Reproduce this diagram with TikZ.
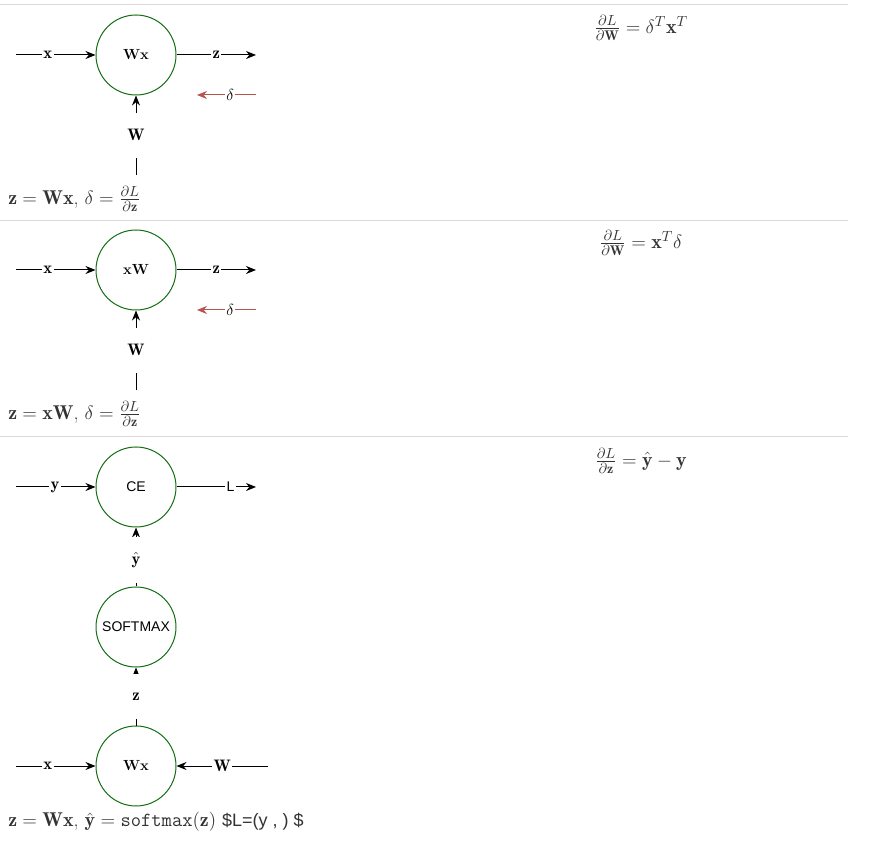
\documentclass[tikz,border=0pt]{standalone}
\usepackage{fontspec}
\setsansfont{Liberation Sans}
\usetikzlibrary{positioning, arrows.meta}
\definecolor{nodegreen}{RGB}{20,110,20}
\definecolor{gradred}{RGB}{184,84,80}
\definecolor{sepgray}{RGB}{218,218,218}
\definecolor{eqgray}{RGB}{51,51,51}

\begin{document}
\begin{tikzpicture}[x=0.75pt,y=-0.75pt]
  \tikzset{
    op/.style={
      draw=nodegreen,
      line width=0.75pt,
      circle,
      minimum size=60pt,
      inner sep=0pt,
      font=\fontsize{11}{13}\selectfont\bfseries
    },
    opsans/.style={
      op,
      font=\fontsize{10.5}{12}\selectfont\sffamily
    },
    flow/.style={
      draw,
      line width=0.75pt,
      -{Stealth[length=7.5pt,width=6pt]}
    },
    grad/.style={
      flow,
      draw=gradred,
      color=gradred
    },
    elabel/.style={
      fill=white,
      inner sep=1pt,
      text=black,
      font=\fontsize{12.5}{14}\selectfont
    },
    vlabel/.style={
      elabel,
      minimum height=34pt
    },
    eq/.style={
      anchor=west,
      inner sep=0pt,
      text=eqgray,
      font=\fontsize{15}{17}\selectfont
    },
    deriv/.style={
      inner sep=0pt,
      text=eqgray,
      font=\fontsize{15}{17}\selectfont
    },
    sep/.style={
      draw=sepgray,
      line width=0.75pt
    }
  }

  \useasboundingbox (0,0) rectangle (872,841);

  % Draw the separators between the three cases
  \foreach \y in {5,221,437}
    \draw[sep] (0,\y) -- (848,\y);

  % Case 1: z = Wx
  \node[op] at (136,55) (wx1) {Wx};
  \coordinate (x1in) at (16,55);
  \coordinate (z1out) at (256,55);
  \coordinate (d1in) at (256,95);
  \coordinate (d1out) at (197,95);
  \coordinate (w1in) at (136,175);
  \draw[flow] (x1in) -- node[elabel, pos=0.4] {$\mathbf{x}$} (wx1);
  \draw[flow] (wx1) -- node[elabel] {$\mathbf{z}$} (z1out);
  \draw[grad] (d1in) -- node[elabel, pos=0.44] {$\delta$} (d1out);
  \draw[flow] (w1in) -- node[vlabel] {$\mathbf{W}$} (wx1);
  \node[eq] at (8,199) (eq1) {$\mathbf{z}=\mathbf{Wx}$, $\delta=\frac{\partial L}{\partial\mathbf{z}}$};
  \node[deriv] at (641,28) (dw1) {$\frac{\partial L}{\partial\mathbf{W}}=\delta^T\mathbf{x}^T$};

  % Case 2: z = xW
  \node[op] at (136,270) (xw2) {xW};
  \coordinate (x2in) at (16,270);
  \coordinate (z2out) at (256,270);
  \coordinate (d2in) at (256,310);
  \coordinate (d2out) at (197,310);
  \coordinate (w2in) at (136,390);
  \draw[flow] (x2in) -- node[elabel, pos=0.4] {$\mathbf{x}$} (xw2);
  \draw[flow] (xw2) -- node[elabel] {$\mathbf{z}$} (z2out);
  \draw[grad] (d2in) -- node[elabel, pos=0.44] {$\delta$} (d2out);
  \draw[flow] (w2in) -- node[vlabel] {$\mathbf{W}$} (xw2);
  \node[eq] at (8,414) (eq2) {$\mathbf{z}=\mathbf{xW}$, $\delta=\frac{\partial L}{\partial\mathbf{z}}$};
  \node[deriv] at (641,243) (dw2) {$\frac{\partial L}{\partial\mathbf{W}}=\mathbf{x}^T\delta$};

  % Case 3: softmax with cross entropy
  \node[opsans] at (136,487) (ce) {CE};
  \node[opsans] at (136,627) (softmax) {SOFTMAX};
  \node[op] at (136,766) (wx3) {Wx};
  \coordinate (yin) at (16,487);
  \coordinate (lout) at (256,487);
  \coordinate (x3in) at (16,766);
  \coordinate (w3in) at (268,766);
  \draw[flow] (yin) -- node[elabel, pos=0.49] {$\mathbf{y}$} (ce);
  \draw[flow] (ce) -- node[elabel, pos=0.68, font=\fontsize{10.5}{12}\selectfont\sffamily] {L} (lout);
  \draw[flow] (softmax) -- node[vlabel, pos=0.45] {$\hat{\mathbf{y}}$} (ce);
  \draw[flow] (wx3) -- node[vlabel] {$\mathbf{z}$} (softmax);
  \draw[flow] (x3in) -- node[elabel, pos=0.4] {$\mathbf{x}$} (wx3);
  \draw[flow] (w3in) -- node[elabel] {$\mathbf{W}$} (wx3);
  \node[eq] at (8,822) (eq3) {$\mathbf{z}=\mathbf{Wx}$, $\hat{\mathbf{y}}=\mathtt{softmax}(\mathbf{z})$ {\fontsize{13.5}{15}\selectfont\sffamily\$L=(y , ) \$}};
  \node[deriv] at (641,461) (dz3) {$\frac{\partial L}{\partial\mathbf{z}}=\hat{\mathbf{y}}-\mathbf{y}$};

\end{tikzpicture}
\end{document}
